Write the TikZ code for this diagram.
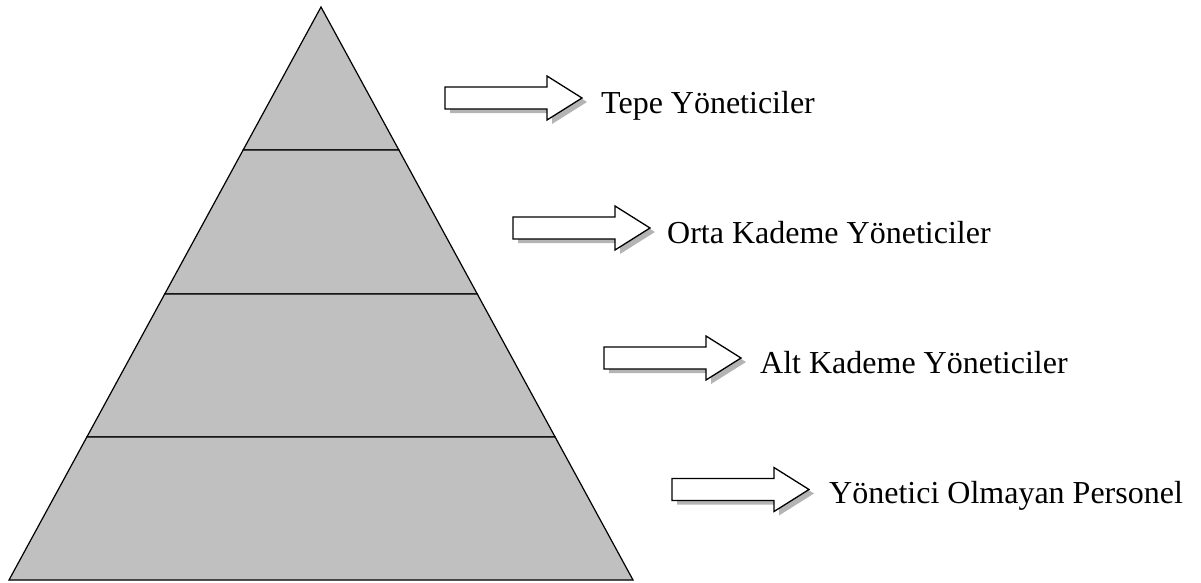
\documentclass[tikz,border=0pt]{standalone}
\usepackage{fontspec}
\setmainfont{Liberation Serif}
\usetikzlibrary{calc}
\definecolor{bandfill}{HTML}{C0C0C0}
\definecolor{bandshadow}{HTML}{8C8C8C}
\definecolor{arrowshadow}{HTML}{B4B4B4}
\tikzset{
  band/.style={fill=bandfill, draw=black, line width=1.2pt, line join=miter},
  bandshade/.style={fill=bandshadow},
  label/.style={anchor=base west, inner sep=0pt, font=\fontsize{32}{38}\selectfont},
  blockarrow/.pic={
    \fill[arrowshadow, shift={(5,4)}]
      (0,-11) -- (102,-11) -- (102,-22) -- (137,0) -- (102,22) -- (102,11) -- (0,11) -- cycle;
    \draw[fill=white, line width=1.3pt, line join=miter]
      (0,-11) -- (102,-11) -- (102,-22) -- (137,0) -- (102,22) -- (102,11) -- (0,11) -- cycle;
  }
}
\begin{document}
\begin{tikzpicture}[x=1pt, y=-1pt]
\useasboundingbox (0,0) rectangle (1201,582);
\begin{scope}
\clip (0,0) rectangle (1201,582);
% pyramid corners
\coordinate (apex) at (321,7);
\coordinate (bl) at (9,580);
\coordinate (br) at (633,580);
% band boundaries on the two slanted sides
\coordinate (l1) at ($(apex)!0.24956!(bl)$);
\coordinate (r1) at ($(apex)!0.24956!(br)$);
\coordinate (l2) at ($(apex)!0.50087!(bl)$);
\coordinate (r2) at ($(apex)!0.50087!(br)$);
\coordinate (l3) at ($(apex)!0.75044!(bl)$);
\coordinate (r3) at ($(apex)!0.75044!(br)$);
% four stacked bands, each with a small drop shadow
\fill[bandshade, shift={(2.5,2.5)}] (apex) -- (r1) -- (l1) -- cycle;
\draw[band] (apex) -- (r1) -- (l1) -- cycle;
\fill[bandshade, shift={(2.5,2.5)}] (l1) -- (r1) -- (r2) -- (l2) -- cycle;
\draw[band] (l1) -- (r1) -- (r2) -- (l2) -- cycle;
\fill[bandshade, shift={(2.5,2.5)}] (l2) -- (r2) -- (r3) -- (l3) -- cycle;
\draw[band] (l2) -- (r2) -- (r3) -- (l3) -- cycle;
\fill[bandshade, shift={(2.5,2.5)}] (l3) -- (r3) -- (br) -- (bl) -- cycle;
\draw[band] (l3) -- (r3) -- (br) -- (bl) -- cycle;
\end{scope}
% block arrows pointing to the level names
\pic at (445,98) {blockarrow};
\pic at (513,228) {blockarrow};
\pic at (604,358) {blockarrow};
\pic at (672,489.5) {blockarrow};
% level names
\node[label] (top) at (601,113) {Tepe Yöneticiler};
\node[label] (mid) at (667,243) {Orta Kademe Yöneticiler};
\node[label] (low) at (760,373) {Alt Kademe Yöneticiler};
\node[label] (staff) at (829,503.5) {Yönetici Olmayan Personel};
\end{tikzpicture}
\end{document}
